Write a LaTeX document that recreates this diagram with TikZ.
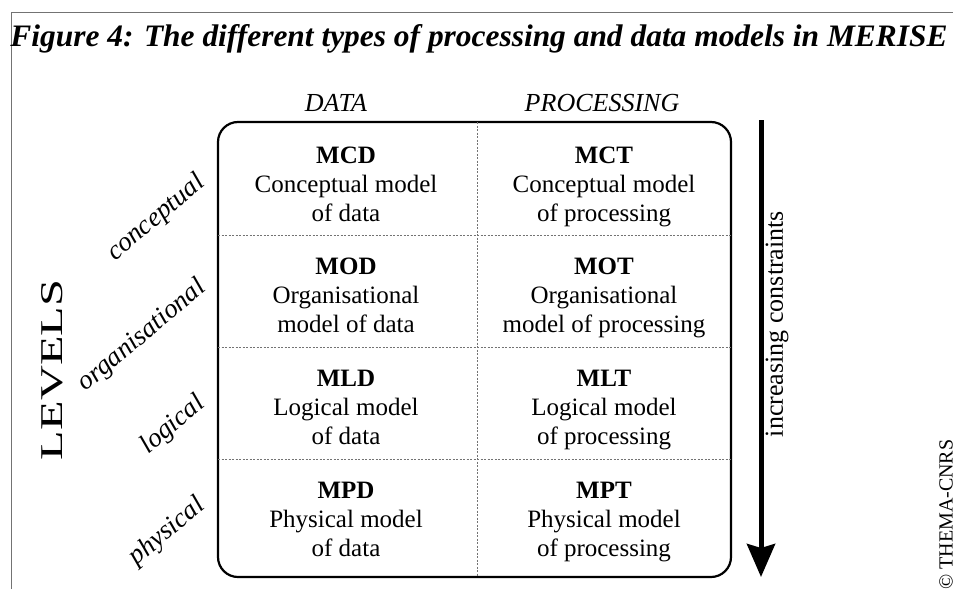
\documentclass[tikz,border=0pt]{standalone}
\usepackage{fontspec}
\setmainfont{Liberation Serif}
\usetikzlibrary{arrows.meta}
\tikzset{
  frameline/.style={draw=black!55, line width=1pt},
  mainbox/.style={draw=black, line width=2.2pt, rounded corners=20pt},
  divider/.style={draw=black!55, line width=0.6pt, dash pattern=on 2pt off 1.5pt},
  cell/.style={align=center, anchor=north, font=\fontsize{25}{29}\selectfont, inner sep=0pt},
  colhead/.style={font=\fontsize{26}{30}\selectfont\itshape, inner sep=0pt},
  levellabel/.style={font=\fontsize{27}{30}\selectfont\itshape, rotate=40, anchor=base east, inner sep=0pt},
  bigarrow/.style={line width=5pt, -{Stealth[width=28pt,length=33pt,inset=4pt]}},
}
\begin{document}
\begin{tikzpicture}[x=1pt,y=-1pt]
\useasboundingbox (0,0) rectangle (953,589);
\fill[white] (0,0) rectangle (953,589);
\draw[frameline] (11,589) -- (11,12) -- (953,12);
\node[inner sep=0pt, anchor=base] (title) at (479,46)
  {\resizebox{937pt}{22pt}{\bfseries\itshape Figure 4: The different types of processing and data models in MERISE}};
\node[colhead] (hdata) at (336,103) {DATA};
\node[colhead] (hproc) at (602,103) {PROCESSING};
\draw[mainbox] (218,122) rectangle (731,577);
\draw[divider] (218,235) -- (731,235);
\draw[divider] (218,347) -- (731,347);
\draw[divider] (218,459) -- (731,459);
\draw[divider] (477,122) -- (477,577);
\node[cell] (mcd) at (346,147) {\textbf{MCD}\\Conceptual model\\of data};
\node[cell] (mct) at (604,147) {\textbf{MCT}\\Conceptual model\\of processing};
\node[cell] (mod) at (346,258) {\textbf{MOD}\\Organisational\\model of data};
\node[cell] (mot) at (604,258) {\textbf{MOT}\\Organisational\\model of processing};
\node[cell] (mld) at (346,370) {\textbf{MLD}\\Logical model\\of data};
\node[cell] (mlt) at (604,370) {\textbf{MLT}\\Logical model\\of processing};
\node[cell] (mpd) at (346,482) {\textbf{MPD}\\Physical model\\of data};
\node[cell] (mpt) at (604,482) {\textbf{MPT}\\Physical model\\of processing};
\node[levellabel] (lc) at (206,185) {conceptual};
\node[levellabel] (lo) at (207,290) {organisational};
\node[levellabel] (ll) at (206,406) {logical};
\node[levellabel] (lp) at (206,508) {physical};
\node[rotate=90, inner sep=0pt] (levels) at (52,370) {\resizebox{180pt}{21pt}{LEVELS}};
\coordinate (atop) at (761,120);
\coordinate (abot) at (761,577);
\draw[bigarrow] (atop) -- (abot);
\node[rotate=90, font=\fontsize{26}{30}\selectfont, inner sep=0pt] (ic) at (777,324) {increasing constraints};
\node[rotate=90, anchor=west, font=\fontsize{20}{24}\selectfont, inner sep=0pt] (copy) at (946,590) {© THEMA-CNRS};
\end{tikzpicture}
\end{document}
